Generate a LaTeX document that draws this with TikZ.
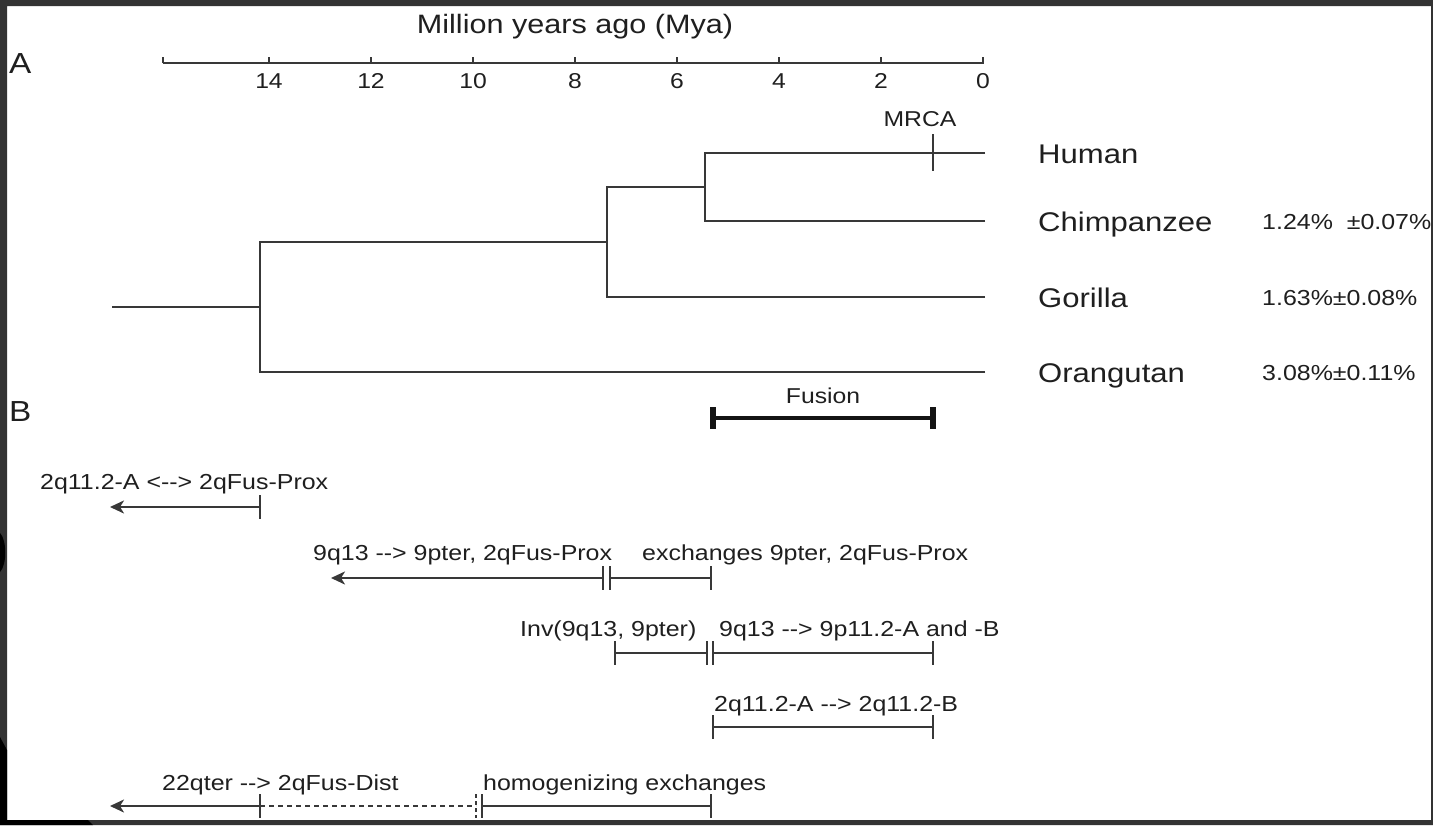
\documentclass[tikz,border=0pt]{standalone}
\usepackage{fontspec}
\setmainfont{Liberation Sans}[FakeStretch=1.15]
\usetikzlibrary{arrows.meta}
\begin{document}
\begin{tikzpicture}[x=1pt,y=-1pt,
  txt/.style={inner sep=0pt, anchor=base west, text=black!88, font=\fontsize{21.7}{25}\selectfont},
  num/.style={inner sep=0pt, anchor=base, text=black!88, font=\fontsize{21.5}{25}\selectfont},
  species/.style={inner sep=0pt, anchor=base west, text=black!88, font=\fontsize{27}{31}\selectfont},
  panel/.style={inner sep=0pt, anchor=base west, text=black!88, font=\fontsize{29}{33}\selectfont},
  ttl/.style={inner sep=0pt, anchor=base, text=black!88, font=\fontsize{26.6}{30}\selectfont},
  branch/.style={line width=2.5pt, draw=black!78},
  seg/.style={line width=2.3pt, draw=black!78},
  tk/.style={line width=2.2pt, draw=black!78},
  back/.style={seg, -{Stealth[length=14pt,width=13pt,inset=4pt]}},
]
\useasboundingbox (0,0) rectangle (1433,825);
\fill[white] (0,0) rectangle (1433,825);

% ---------- panel A ----------
\node[ttl] (title) at (575,33) {Million years ago (Mya)};
\node[panel] (pA) at (9,73) {A};
\node[panel] (pB) at (9,421) {B};

% time axis
\coordinate (ax0) at (163,63);
\coordinate (ax1) at (984,63);
\draw[seg] (ax0) -- (ax1);
\draw[tk] (ax0) -- ++(0,-6);
\foreach \t in {14,12,10,8,6,4,2,0}{
  \pgfmathsetmacro{\xx}{983-51*\t}
  \coordinate (tk\t) at (\xx,63);
  \draw[tk] (tk\t) -- ++(0,-6);
  \node[num] (tl\t) at (\xx,88) {\t};
}

% tree
\coordinate (root) at (112,307);
\coordinate (oN) at (260,307);
\coordinate (gN) at (607,242);
\coordinate (hcN) at (705,187);
\coordinate (hE) at (985,153);
\coordinate (cE) at (985,221);
\coordinate (gE) at (985,297);
\coordinate (oE) at (985,372);
\draw[branch] (root) -- (oN);
\draw[branch] (gN) -| (oN);
\draw[branch] (oE) -| (oN);
\draw[branch] (hcN) -| (gN);
\draw[branch] (gE) -| (gN);
\draw[branch] (hE) -| (hcN);
\draw[branch] (cE) -| (hcN);

% MRCA
\coordinate (mrca) at (933,153);
\draw[branch] (mrca) ++(0,-19) -- ++(0,37);
\node[num] (mrcaL) at (920,126) {MRCA};

% species
\node[species] (human) at (1038,163) {Human};
\node[species] (chimp) at (1038,231) {Chimpanzee};
\node[species] (gorilla) at (1038,307) {Gorilla};
\node[species] (orang) at (1038,382) {Orangutan};
\node[txt] (pc) at (1262,229) {1.24\%\ \ ±0.07\%};
\node[txt] (pg) at (1262,305) {1.63\%±0.08\%};
\node[txt] (po) at (1262,380) {3.08\%±0.11\%};

% fusion bar
\coordinate (f0) at (713,418);
\coordinate (f1) at (933,418);
\draw[line width=4.5pt, black!92] (f0) -- (f1);
\draw[line width=5.5pt, black!92] (f0) ++(0,-11) -- ++(0,22);
\draw[line width=5.5pt, black!92] (f1) ++(0,-11) -- ++(0,22);
\node[num] (fusL) at (823,403) {Fusion};

% ---------- panel B ----------
% row 1
\coordinate (r1a) at (260,507);
\coordinate (r1b) at (110,507);
\draw[back] (r1a) -- (r1b);
\draw[tk] (r1a) ++(0,-12) -- ++(0,24);
\node[txt] (l1) at (40,489) {2q11.2-A <-{}-> 2qFus-Prox};

% row 2
\coordinate (r2a) at (603,578);
\coordinate (r2b) at (331,578);
\coordinate (r2c) at (610,578);
\coordinate (r2d) at (711,578);
\draw[back] (r2a) -- (r2b);
\draw[seg] (r2c) -- (r2d);
\draw[tk] (r2a) ++(0,-12) -- ++(0,24);
\draw[tk] (r2c) ++(0,-12) -- ++(0,24);
\draw[tk] (r2d) ++(0,-12) -- ++(0,24);
\node[txt] (l2a) at (313,560) {9q13 -{}-> 9pter, 2qFus-Prox};
\node[txt] (l2b) at (642,560) {exchanges 9pter, 2qFus-Prox};

% row 3
\coordinate (r3a) at (615,653);
\coordinate (r3b) at (707,653);
\coordinate (r3c) at (713,653);
\coordinate (r3d) at (933,653);
\draw[seg] (r3a) -- (r3b);
\draw[seg] (r3c) -- (r3d);
\foreach \p in {r3a,r3b,r3c,r3d}{\draw[tk] (\p) ++(0,-12) -- ++(0,24);}
\node[txt] (l3a) at (520,636) {Inv(9q13, 9pter)};
\node[txt] (l3b) at (719,636) {9q13 -{}-> 9p11.2-A and -B};

% row 4
\coordinate (r4a) at (713,727);
\coordinate (r4b) at (933,727);
\draw[seg] (r4a) -- (r4b);
\foreach \p in {r4a,r4b}{\draw[tk] (\p) ++(0,-12) -- ++(0,24);}
\node[txt] (l4) at (714,711) {2q11.2-A -{}-> 2q11.2-B};

% row 5
\coordinate (r5a) at (260,806);
\coordinate (r5b) at (110,806);
\coordinate (r5c) at (476,806);
\coordinate (r5d) at (482,806);
\coordinate (r5e) at (711,806);
\draw[back] (r5a) -- (r5b);
\draw[tk] (r5a) ++(0,-12) -- ++(0,24);
\draw[seg, line width=1.8pt, dash pattern=on 5pt off 4pt] (r5a) -- (r5c);
\draw[tk, dash pattern=on 4pt off 3pt] (r5c) ++(0,-12) -- ++(0,24);
\draw[tk] (r5d) ++(0,-12) -- ++(0,24);
\draw[seg] (r5d) -- (r5e);
\draw[tk] (r5e) ++(0,-12) -- ++(0,24);
\node[txt] (l5a) at (162,790) {22qter -{}-> 2qFus-Dist};
\node[txt] (l5b) at (483,790) {homogenizing exchanges};

% ---------- frame ----------
\fill[black!80, even odd rule] (0,0) rectangle (1433,825) (7,6) rectangle (1431,820);
\fill[black] (0,737) -- (7,750) -- (7,820) -- (88,820) -- (93,825) -- (0,825) -- cycle;
\fill[black] (0,533) .. controls (7,540) and (7,565) .. (0,572) -- cycle;
\end{tikzpicture}
\end{document}
